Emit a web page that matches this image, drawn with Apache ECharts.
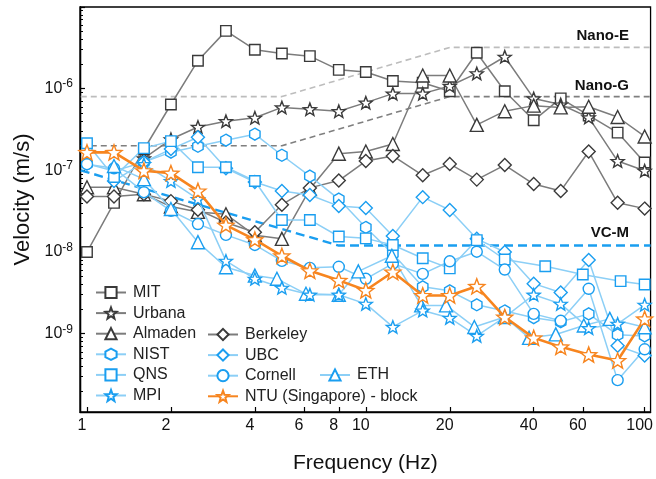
<!DOCTYPE html>
<html>
<head>
<meta charset="utf-8">
<script src="https://cdn.jsdelivr.net/npm/echarts@6/dist/echarts.min.js"></script>
<style>
  html, body { margin: 0; padding: 0; background: #fff; }
  #chart { width: 656px; height: 479px; }
</style>
</head>
<body>
<div id="chart"></div>
<script>
// 1/3-octave band centres (Hz)
const freqs = [1, 1.25, 1.6, 2, 2.5, 3.15, 4, 5, 6.3, 8, 10, 12.5, 16, 20, 25, 31.5, 40, 50, 63, 80, 100];
const qnsFreqs = [1, 1.25, 1.6, 2, 2.5, 3.15, 4, 5, 6.3, 8, 10, 12.5, 16, 20, 25, 31.5, 44, 60, 82, 100];
const ethFreqs = [1.25, 1.6, 2, 2.5, 3.15, 4, 4.8, 6.1, 8, 9.4, 12.4, 15.8, 19.4, 24.5, 31.5, 38.5, 48, 60.5, 75, 100];

// velocity (m/s)
const mit = [1.0e-8, 4.0e-8, 1.8e-7, 6.4e-7, 2.2e-6, 5.1e-6, 3.0e-6, 2.7e-6, 2.5e-6, 1.7e-6, 1.6e-6, 1.24e-6, 1.18e-6, 9.3e-7, 2.75e-6, 9.3e-7, 4.1e-7, 7.6e-7, 4.7e-7, 2.9e-7, 1.25e-7];
const urbana = [null, null, 1.4e-7, 2.4e-7, 3.4e-7, 4.0e-7, 4.4e-7, 5.9e-7, 5.6e-7, 5.3e-7, 6.75e-7, 8.7e-7, 8.7e-7, 1.08e-6, 1.54e-6, 2.46e-6, 7.6e-7, 6.4e-7, 4.45e-7, 1.3e-7, 9.9e-8];
const almaden = [6.2e-8, 6.2e-8, 5.1e-8, 3.6e-8, 3.1e-8, 2.9e-8, 1.6e-8, 1.45e-8, 5.9e-8, 1.6e-7, 1.7e-7, 2.1e-7, 1.45e-6, 1.45e-6, 3.6e-7, 5.3e-7, 6.2e-7, 5.9e-7, 6.0e-7, 4.5e-7, 2.6e-7];
const berkeley = [4.8e-8, 4.8e-8, 5.1e-8, 4.2e-8, 3.3e-8, 2.3e-8, 1.75e-8, 3.8e-8, 6.1e-8, 7.5e-8, 1.3e-7, 1.5e-7, 8.7e-8, 1.2e-7, 7.7e-8, 1.16e-7, 6.8e-8, 5.6e-8, 1.7e-7, 4.0e-8, 3.4e-8];
const nist = [1.2e-7, 9.8e-8, 1.26e-7, 1.67e-7, 1.97e-7, 2.34e-7, 2.77e-7, 1.53e-7, 8.5e-8, 4.45e-8, 2.0e-8, 9.5e-9, 3.75e-9, 3.35e-9, 2.26e-9, 1.9e-9, 1.57e-9, 1.4e-9, 1.75e-9, 9.7e-10, 9.4e-10];
const ubc = [null, 7.4e-8, 1.26e-7, 1.82e-7, 2.54e-7, 1.06e-7, 7.2e-8, 5.6e-8, 5.0e-8, 3.65e-8, 3.45e-8, 1.57e-8, 4.7e-8, 3.27e-8, 1.45e-8, 1.0e-8, 4.1e-9, 3.2e-9, 8.0e-9, 7.1e-10, 5.4e-10];
const qns = [2.15e-7, 8.3e-8, 1.87e-7, 2.28e-7, 1.09e-7, 1.09e-7, 7.4e-8, 2.47e-8, 2.47e-8, 1.55e-8, 1.47e-8, 1.22e-8, 8.4e-9, 6.3e-9, 1.4e-8, 8.1e-9, 6.7e-9, 5.3e-9, 4.4e-9, 4.0e-9];
const cornell = [1.19e-7, 1.06e-7, 5.4e-8, 3.2e-8, 2.2e-8, 1.62e-8, 1.22e-8, 7.8e-9, 6.4e-9, 6.6e-9, 4.7e-9, 7.2e-9, 5.4e-9, 7.7e-9, 1.01e-8, 6.1e-9, 1.75e-9, 1.44e-9, 3.55e-9, 2.7e-10, 6.45e-10];
const eth = [1.13e-7, 7.8e-8, 3.36e-8, 1.32e-8, 6.5e-9, 5.15e-9, 4.7e-9, 3.08e-9, 3.0e-9, 5.8e-9, 9.0e-9, 2.22e-9, 2.22e-9, 1.21e-9, 1.6e-9, 8.9e-10, 9.8e-10, 1.26e-9, 1.52e-9, 1.2e-9];
const mpi = [null, null, 1.19e-7, 7.4e-8, 4.45e-8, 7.8e-9, 4.7e-9, 3.65e-9, 3.0e-9, 3.0e-9, 2.32e-9, 1.21e-9, 1.92e-9, 1.56e-9, 9.4e-10, 1.6e-9, 3.0e-9, 2.32e-9, 1.17e-9, 1.32e-9, 2.26e-9];
const ntu = [1.66e-7, 1.66e-7, 9.9e-8, 9.25e-8, 5.6e-8, 2.14e-8, 1.42e-8, 9.0e-9, 5.9e-9, 4.5e-9, 3.4e-9, 5.7e-9, 2.94e-9, 2.94e-9, 3.8e-9, 1.6e-9, 8.9e-10, 6.9e-10, 5.55e-10, 4.7e-10, 1.52e-9];

// criterion curves
const vcmFreqs = [0.95, 8, 105];
const vcm = [1.0e-7, 1.2e-8, 1.2e-8];
const nanoFreqs = [0.95, 5, 20, 105];
const nanoE = [8e-7, 8e-7, 3.2e-6, 3.2e-6];
const nanoG = [2e-7, 2e-7, 8e-7, 8e-7];

// axis ticks
const xTicks = [1, 2, 4, 6, 8, 10, 20, 40, 60, 100];
const yTicks = [1e-9, 1e-8, 1e-7, 1e-6, 1e-5];
const yMinor = [];
[-10, -9, -8, -7, -6].forEach(function (e) {
  for (let k = 2; k <= 9; k++) yMinor.push(+(k * Math.pow(10, e)).toPrecision(3));
});

const STAR = 'path://M50 0L62.34 33.01L97.55 34.55L69.97 56.49L79.39 90.45L50 71L20.61 90.45L30.03 56.49L2.45 34.55L37.66 33.01Z';
const HEX = 'path://M50 0L93.3 25L93.3 75L50 100L6.7 75L6.7 25Z';

const GRAY_LINE = '#7c7c7c', GRAY_MARK = '#3a3a3a';
const BLUE_LINE = '#8ccff6', BLUE_MARK = '#1a9ef0';
const ORANGE = '#f7851f';
const FONT = 'Liberation Sans';

function pairs(fs, vs) {
  const out = [];
  vs.forEach(function (v, i) { if (v != null) out.push([fs[i], v]); });
  return out;
}

function mark(name, fs, vs, symbol, size, lineColor, markColor, z) {
  return {
    name: name,
    type: 'line',
    data: pairs(fs, vs),
    symbol: symbol,
    symbolSize: size,
    symbolKeepAspect: true,
    showAllSymbol: true,
    z: z,
    lineStyle: { color: lineColor, width: 1.5 },
    itemStyle: { color: '#fff', borderColor: markColor, borderWidth: 1.4 },
    emphasis: { disabled: true },
    animation: false
  };
}

function criterion(vs, fs, color, width, dash) {
  return {
    type: 'line',
    data: pairs(fs, vs),
    symbol: 'none',
    z: 1,
    lineStyle: { color: color, width: width, type: dash },
    emphasis: { disabled: true },
    silent: true,
    animation: false
  };
}

const series = [
  criterion(nanoE, nanoFreqs, '#bdbdbd', 1.6, [6, 4]),
  criterion(nanoG, nanoFreqs, '#7f7f7f', 1.6, [6, 4]),
  criterion(vcm, vcmFreqs, '#1a9ef0', 2.4, [9, 5]),
  mark('MIT', freqs, mit, 'rect', 10.5, GRAY_LINE, GRAY_MARK, 2),
  mark('Urbana', freqs, urbana, STAR, 13, GRAY_LINE, GRAY_MARK, 2),
  mark('Almaden', freqs, almaden, 'triangle', 13, GRAY_LINE, GRAY_MARK, 2),
  mark('Berkeley', freqs, berkeley, 'diamond', 13, GRAY_LINE, GRAY_MARK, 2),
  mark('NIST', freqs, nist, HEX, 12, BLUE_LINE, BLUE_MARK, 3),
  mark('UBC', freqs, ubc, 'diamond', 13, BLUE_LINE, BLUE_MARK, 3),
  mark('QNS', qnsFreqs, qns, 'rect', 10.5, BLUE_LINE, BLUE_MARK, 3),
  mark('Cornell', freqs, cornell, 'circle', 11, BLUE_LINE, BLUE_MARK, 3),
  mark('ETH', ethFreqs, eth, 'triangle', 13, BLUE_LINE, BLUE_MARK, 3),
  mark('MPI', freqs, mpi, STAR, 13, BLUE_LINE, BLUE_MARK, 3),
  mark('NTU (Singapore) - block', freqs, ntu, STAR, 16, ORANGE, ORANGE, 5)
];
series[series.length - 1].lineStyle.width = 2.6;

function legend(names, left, top) {
  return {
    data: names,
    orient: 'vertical',
    left: left,
    top: top,
    padding: 0,
    itemWidth: 30,
    itemHeight: 14,
    itemGap: 4.6,
    selectedMode: false,
    textStyle: { fontFamily: FONT, fontSize: 16, color: '#222', padding: [0, 0, 0, 2] }
  };
}

const chart = echarts.init(document.getElementById('chart'));
chart.setOption({
  backgroundColor: '#fff',
  animation: false,
  grid: { left: 80, right: 2, top: 7, bottom: 66, show: true, borderColor: '#000', borderWidth: 1.3, containLabel: false },
  legend: [
    legend(['MIT', 'Urbana', 'Almaden', 'NIST', 'QNS', 'MPI'], 95, 284.5),
    legend(['Berkeley', 'UBC', 'Cornell', 'NTU (Singapore) - block'], 207, 326.5),
    legend(['ETH'], 319, 367)
  ],
  xAxis: {
    type: 'log',
    logBase: 10,
    min: 0.944,
    max: 105,
    name: 'Frequency (Hz)',
    nameLocation: 'middle',
    nameGap: 41,
    nameTextStyle: { fontFamily: FONT, fontSize: 21, color: '#111' },
    axisLine: { lineStyle: { color: '#000', width: 1.3 } },
    axisTick: { inside: true, length: 5, customValues: xTicks, lineStyle: { color: '#000', width: 1.2 } },
    axisLabel: { customValues: xTicks, fontFamily: FONT, fontSize: 16, color: '#111', margin: 6, padding: [0, 10, 0, 0] },
    splitLine: { show: false }
  },
  yAxis: [
    {
      type: 'log',
      logBase: 10,
      min: 1.1e-10,
      max: 1e-5,
      name: 'Velocity (m/s)',
      nameLocation: 'middle',
      nameGap: 45,
      nameTextStyle: { fontFamily: FONT, fontSize: 22, color: '#111', padding: [0, 0, 0, 20] },
      axisLine: { lineStyle: { color: '#000', width: 1.3 } },
      axisTick: { inside: true, length: 5, customValues: yTicks, lineStyle: { color: '#000', width: 1.2 } },
      axisLabel: {
        customValues: yTicks.slice(0, 4),
        margin: 7,
        formatter: function (v) { return '{b|10}{s|' + Math.round(Math.log10(v)) + '}'; },
        rich: {
          b: { fontFamily: FONT, fontSize: 16, color: '#111' },
          s: { fontFamily: FONT, fontSize: 12, color: '#111', verticalAlign: 'top', padding: [0, 0, 9, 0] }
        }
      },
      splitLine: { show: false }
    },
    {
      type: 'log',
      logBase: 10,
      min: 1.1e-10,
      max: 1e-5,
      position: 'left',
      axisLine: { show: true, lineStyle: { color: '#000', width: 1.3 } },
      axisTick: { show: true, inside: true, length: 3, customValues: yMinor, lineStyle: { color: '#000', width: 1 } },
      axisLabel: { show: false },
      splitLine: { show: false }
    }
  ],
  graphic: [
    { type: 'text', right: 27, top: 28, style: { text: 'Nano-E', font: 'bold 15px ' + FONT, fill: '#111' } },
    { type: 'text', right: 27, top: 78, style: { text: 'Nano-G', font: 'bold 15px ' + FONT, fill: '#111' } },
    { type: 'text', right: 27, top: 225, style: { text: 'VC-M', font: 'bold 15px ' + FONT, fill: '#111' } }
  ],
  series: series
});
</script>
</body>
</html>
